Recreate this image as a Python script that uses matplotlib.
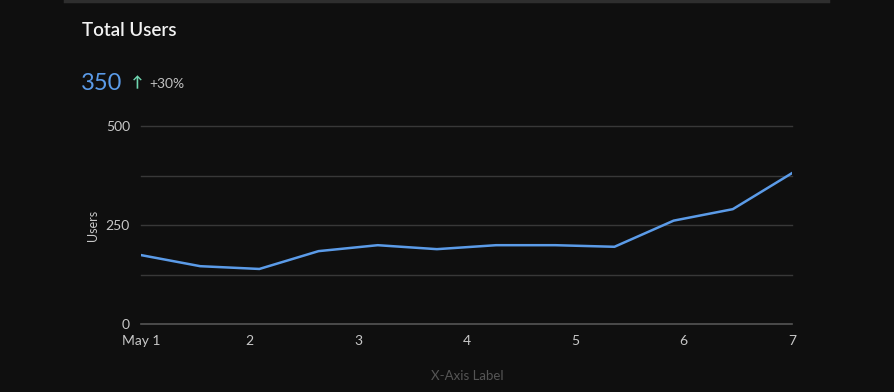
import matplotlib
matplotlib.use("Agg")
import matplotlib.pyplot as plt
from matplotlib.lines import Line2D

# data
days = [0, 6/11, 12/11, 18/11, 24/11, 30/11, 36/11, 42/11, 48/11, 54/11, 60/11, 6]
users = [174, 146, 139, 184, 199, 189, 199, 199, 195, 261, 290, 381]
tick_pos = [0, 1, 2, 3, 4, 5, 6]
tick_labels = ["May 1", "2", "3", "4", "5", "6", "7"]
y_ticks = [0, 250, 500]
grid_levels = [0, 125, 250, 375, 500]

bg = "#0f0f0f"
plt.rcParams["font.family"] = ["Lato", "DejaVu Sans"]

fig = plt.figure(figsize=(8.95, 3.92), dpi=100, facecolor=bg)
ax = fig.add_axes([141/895, 68/392, 651/895, 198/392], facecolor=bg)

for g in grid_levels:
    ax.axhline(g, color="#555555" if g == 0 else "#383838", lw=1.2 if g == 0 else 1.0,
               zorder=1, clip_on=False)

ax.plot(days, users, color="#5b9be8", lw=1.8, zorder=3, solid_joinstyle="round")

ax.set_xlim(0, 6)
ax.set_ylim(0, 500)
ax.set_xticks(tick_pos)
ax.set_xticklabels(tick_labels)
ax.set_yticks(y_ticks)
ax.tick_params(colors="#c8c8c8", labelsize=10, length=0)
ax.tick_params(axis="x", pad=8)
ax.tick_params(axis="y", pad=8)
for s in ax.spines.values():
    s.set_visible(False)

ax.set_ylabel("Users", color="#c8c8c8", fontsize=9, labelpad=5)
fig.text(467/895, 1 - 376/392, "X-Axis Label", color="#555555", fontsize=9.5,
         ha="center", va="center")

# header texts
fig.text(82/895, 1 - 30/392, "Total Users", color="#f2f2f2", fontsize=13.5,
         ha="left", va="center", fontweight="semibold")
fig.text(81/895, 1 - 84/392, "350", color="#5b9be8", fontsize=17,
         ha="left", va="center")
fig.text(132/895, 1 - 83/392, "↑", color="#6fd6b0", fontsize=10.5,
         ha="left", va="center", fontweight="bold")
fig.text(149/895, 1 - 84/392, "+30%", color="#c0c0c0", fontsize=10,
         ha="left", va="center")

# top edge of the card
fig.add_artist(Line2D([65/895, 828/895], [1 - 1/392, 1 - 1/392],
                      color="#2e2e2e", lw=2.5, transform=fig.transFigure))

fig.savefig("out.png", dpi=100, facecolor=bg)
